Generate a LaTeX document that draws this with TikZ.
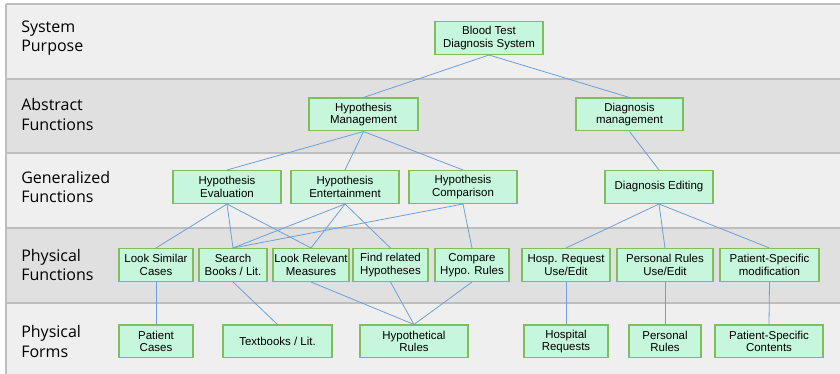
\documentclass[tikz,border=0pt]{standalone}
\usepackage{fontspec}
\setmainfont{Liberation Sans}
\newfontfamily\bandfont{Open Sans}
\definecolor{bandlight}{RGB}{239,239,239}
\definecolor{banddark}{RGB}{224,224,224}
\definecolor{bandrule}{RGB}{190,190,190}
\definecolor{boxfill}{RGB}{198,246,220}
\definecolor{boxrule}{RGB}{128,190,92}
\definecolor{linkblue}{RGB}{108,160,220}
\tikzset{
  box/.style={draw=boxrule,line width=1pt,fill=boxfill,align=center,
    inner sep=1pt,minimum height=24.5pt,minimum width=#1*0.75pt,
    font=\fontsize{8.6}{9.3}\selectfont},
  bandlabel/.style={anchor=west,align=left,inner sep=0pt,
    font=\bandfont\fontsize{12}{14.3}\selectfont},
  link/.style={draw=linkblue,line width=0.6pt}
}
\begin{document}
\begin{tikzpicture}[x=0.75pt,y=-0.75pt]
\useasboundingbox (0,0) rectangle (840,374);
% bands
\foreach \ytop/\ybot/\col in {4/79/bandlight,79/153/banddark,153/228/bandlight,228/303/banddark,303/374/bandlight}
  \fill[\col] (6,\ytop) rectangle (840,\ybot);
\foreach \y in {4,79,153,228,303}
  \draw[bandrule,line width=1.1pt] (6,\y) -- (840,\y);
\draw[bandrule,line width=1.1pt] (6,4) -- (6,374);
% row labels
\node[bandlabel] (lpurpose) at (21,38) {System\\Purpose};
\node[bandlabel] (labstract) at (21,114.5) {Abstract\\Functions};
\node[bandlabel] (lgeneral) at (21,187) {Generalized\\Functions};
\node[bandlabel] (lphysfun) at (21,265) {Physical\\Functions};
\node[bandlabel] (lphysform) at (21,341.5) {Physical\\Forms};
% purpose
\node[box=108] (bts) at (489,38) {Blood Test\\Diagnosis System};
% abstract functions
\node[box=109] (hypmgmt) at (363.5,114.5) {Hypothesis\\Management};
\node[box=107] (diagmgmt) at (629.5,114.5) {Diagnosis\\management};
% generalized functions
\node[box=108] (hypeval) at (227,187) {Hypothesis\\Evaluation};
\node[box=108] (hypent) at (345,187) {Hypothesis\\Entertainment};
\node[box=108] (hypcomp) at (463,187) {Hypothesis\\Comparison};
\node[box=108] (diagedit) at (659,187) {Diagnosis Editing};
% physical functions
\node[box=74] (looksim) at (156,265) {Look Similar\\Cases};
\node[box=68] (searchbk) at (233,265) {Search\\Books / Lit.};
\node[box=76] (lookrel) at (311,265) {Look Relevant\\Measures};
\node[box=75] (findrel) at (390.5,265) {Find related\\Hypotheses};
\node[box=74] (comphypo) at (472,265) {Compare\\Hypo. Rules};
\node[box=88] (hospreq) at (566,265) {Hosp. Request\\Use/Edit};
\node[box=96] (persedit) at (665,265) {Personal Rules\\Use/Edit};
\node[box=99] (patmod) at (769.5,265) {Patient-Specific\\modification};
% physical forms
\node[box=74] (patcases) at (156,341.5) {Patient\\Cases};
\node[box=109] (textbk) at (277.5,341.5) {Textbooks / Lit.};
\node[box=108] (hyprules) at (414,341.5) {Hypothetical\\Rules};
\node[box=84] (hospreqs) at (566,341.5) {Hospital\\Requests};
\node[box=72] (persrules) at (665,341.5) {Personal\\Rules};
\node[box=108] (patcont) at (769,341.5) {Patient-Specific\\Contents};
% links
\foreach \a/\b in {bts/hypmgmt,bts/diagmgmt,
    hypmgmt/hypeval,hypmgmt/hypent,hypmgmt/hypcomp,diagmgmt/diagedit,
    hypeval/looksim,hypeval/searchbk,hypeval/lookrel,
    hypent/searchbk,hypent/lookrel,hypent/findrel,
    hypcomp/searchbk,hypcomp/comphypo,
    diagedit/hospreq,diagedit/persedit,diagedit/patmod,
    looksim/patcases,searchbk/textbk,
    lookrel/hyprules,findrel/hyprules,comphypo/hyprules,
    hospreq/hospreqs,persedit/persrules,patmod/patcont}
  \draw[link] (\a.south) -- (\b.north);
\end{tikzpicture}
\end{document}
